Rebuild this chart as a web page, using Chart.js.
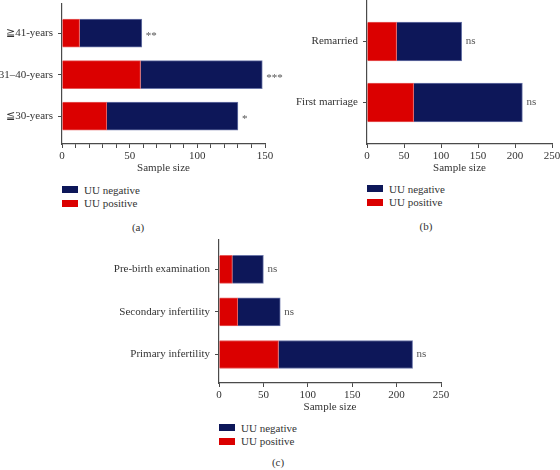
<!DOCTYPE html>
<html>
<head>
<meta charset="utf-8">
<script src="https://cdn.jsdelivr.net/npm/chart.js@4"></script>
<style>
html, body { margin: 0; padding: 0; background: #fff; overflow: hidden; }
#wrap { position: relative; width: 560px; height: 470px; font-family: "Liberation Serif", serif; font-size: 11px; color: #333; }
canvas { position: absolute; }
.leg { position: absolute; }
.leg div { display: flex; align-items: center; height: 13.5px; white-space: nowrap; }
.leg span { display: inline-block; width: 16px; height: 7px; margin-right: 6px; }
.cap { position: absolute; transform: translate(-50%, -50%); }
</style>
</head>
<body>
<div id="wrap">
  <canvas id="age" width="290" height="180" style="left:0;top:0"></canvas>
  <canvas id="marriage" width="270" height="180" style="left:290px;top:0"></canvas>
  <canvas id="type" width="390" height="183" style="left:80px;top:236px"></canvas>

  <div class="leg" style="left:62px;top:183px"></div>
  <div class="leg" style="left:367px;top:182px"></div>
  <div class="leg" style="left:219px;top:421px"></div>

  <div class="cap" style="left:138px;top:227px">(a)</div>
  <div class="cap" style="left:426px;top:226px">(b)</div>
  <div class="cap" style="left:278px;top:462px">(c)</div>
</div>
<script>
const seriesNames = ["UU negative", "UU positive"];

const ageCats = ["≧41-years", "31–40-years", "≦30-years"];
const agePos = [13, 58, 33];
const ageNeg = [46, 90, 97];
const ageSig = ["**", "***", "*"];

const marriageCats = ["Remarried", "First marriage"];
const marriagePos = [40, 63];
const marriageNeg = [88, 147];
const marriageSig = ["ns", "ns"];

const typeCats = ["Pre-birth examination", "Secondary infertility", "Primary infertility"];
const typePos = [15, 21, 67];
const typeNeg = [35, 48, 151];
const typeSig = ["ns", "ns", "ns"];

const RED = "#db0000";
const NAVY = "#0d1759";
const AXIS = "#4a4a4a";
const TXT = "#333";
const font = { family: "'Liberation Serif', serif", size: 11 };

// legends
document.querySelectorAll(".leg").forEach(leg => {
  leg.innerHTML =
    `<div><span style="background:${NAVY}"></span>${seriesNames[0]}</div>` +
    `<div><span style="background:${RED}"></span>${seriesNames[1]}</div>`;
});

// significance marks to the right of each bar
const sigPlugin = {
  id: "sig",
  afterDatasetsDraw(chart, args, o) {
    const { ctx, scales: { x, y } } = chart;
    ctx.save();
    ctx.font = "11px 'Liberation Serif'";
    ctx.fillStyle = "#555";
    ctx.textBaseline = "middle";
    o.marks.forEach((m, i) => {
      const px = x.getPixelForValue(o.pos[i] + o.neg[i]) + 4;
      const py = y.getPixelForValue(i) + (m.startsWith("*") ? 3 : 0);
      ctx.fillText(m, px, py);
    });
    ctx.restore();
  }
};

function panel(id, cats, pos, neg, marks, opt) {
  new Chart(document.getElementById(id), {
    type: "bar",
    data: {
      labels: cats.map((c, i) => i),
      datasets: [
        { label: seriesNames[1], data: pos, backgroundColor: RED, borderColor: "#e65a5a", borderWidth: 1, barThickness: opt.thick },
        { label: seriesNames[0], data: neg, backgroundColor: NAVY, borderColor: "#6b76a8", borderWidth: 1, barThickness: opt.thick },
      ],
    },
    options: {
      indexAxis: "y",
      responsive: false,
      animation: false,
      devicePixelRatio: 1,
      layout: { padding: opt.pad },
      plugins: {
        legend: { display: false },
        tooltip: { enabled: false },
        sig: { pos, neg, marks },
      },
      scales: {
        x: {
          type: "linear",
          stacked: true,
          min: 0,
          max: opt.max,
          ticks: {
            stepSize: opt.step,
            autoSkip: false,
            padding: 2,
            color: TXT,
            font,
            maxRotation: 0,
            callback: (v) => (v % 50 === 0 ? v : ""),
          },
          grid: { drawOnChartArea: false, tickLength: 4, tickColor: AXIS },
          border: { color: AXIS, width: 1.2 },
          title: { display: true, text: "Sample size", color: TXT, font, padding: { top: 0, bottom: 5 } },
          afterFit: (s) => {
            s.height = 36;
            s.paddingLeft = 0;
            s.paddingRight = 0;
          },
        },
        y: {
          type: "linear",
          stacked: true,
          reverse: true,
          offset: false,
          min: opt.lo,
          max: opt.hi,
          afterBuildTicks: (s) => {
            s.ticks = cats.map((c, i) => ({ value: i }));
          },
          ticks: { color: TXT, font, padding: 5, autoSkip: false, callback: (v) => cats[v] },
          grid: { offset: false, drawOnChartArea: false, tickLength: 4, tickColor: AXIS },
          border: { color: AXIS, width: 1.2 },
          afterFit: (s) => {
            s.width = opt.yw;
            s.paddingTop = 0;
            s.paddingBottom = 0;
          },
        },
      },
    },
    plugins: [sigPlugin],
  });
}

panel("age", ageCats, agePos, ageNeg, ageSig, {
  max: 150, step: 10, lo: -0.7, hi: 2.67, thick: 28, yw: 62,
  pad: { top: 4, right: 25, left: 0, bottom: 0 },
});
panel("marriage", marriageCats, marriagePos, marriageNeg, marriageSig, {
  max: 250, step: 50, lo: -0.68, hi: 1.68, thick: 39, yw: 77,
  pad: { top: 0, right: 8, left: 0, bottom: 0 },
});
panel("type", typeCats, typePos, typeNeg, typeSig, {
  max: 250, step: 50, lo: -0.69, hi: 2.67, thick: 28, yw: 139,
  pad: { top: 4, right: 29, left: 0, bottom: 0 },
});
</script>
</body>
</html>
